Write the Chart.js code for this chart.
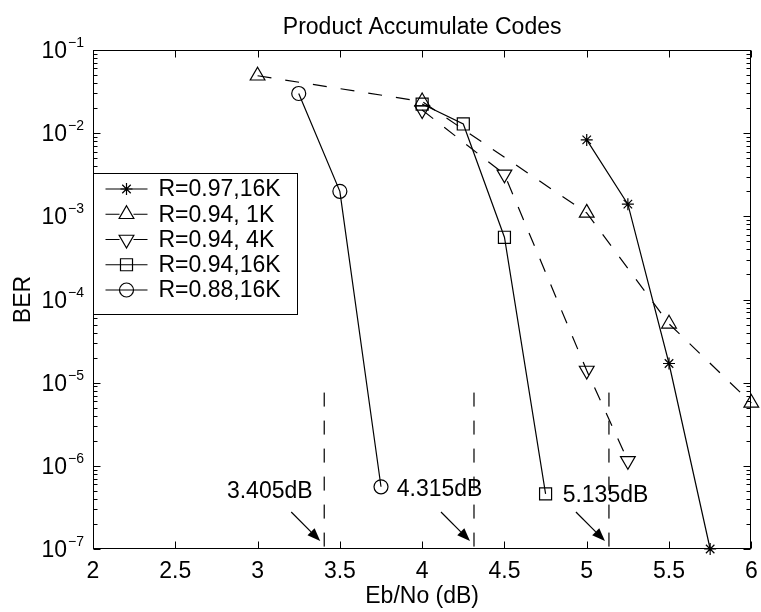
<!DOCTYPE html>
<html>
<head>
<meta charset="utf-8">
<script src="https://cdn.jsdelivr.net/npm/chart.js@4/dist/chart.umd.min.js"></script>
<style>
  html, body { margin: 0; padding: 0; background: #fff; }
  #wrap { width: 761px; height: 612px; }
</style>
</head>
<body>
<div id="wrap"><canvas id="berChart" width="761" height="612"></canvas></div>
<script>
const FONT = "'Liberation Sans', Arial, Helvetica, sans-serif";

// Eb/No (dB) and BER
const ebno97_16K = [5, 5.25, 5.5, 5.75];
const ber97_16K = [8.3e-3, 1.4e-3, 1.7e-5, 1.0e-7];
const ebno94_1K = [3, 4, 5, 5.5, 6];
const ber94_1K = [4.9e-2, 2.4e-2, 1.1e-3, 5.1e-5, 5.7e-6];
const ebno94_4K = [4, 4.5, 5, 5.25];
const ber94_4K = [1.9e-2, 3.2e-3, 1.4e-5, 1.15e-6];
const ebno94_16K = [4, 4.25, 4.5, 4.75];
const ber94_16K = [2.24e-2, 1.29e-2, 5.6e-4, 4.6e-7];
const ebno88_16K = [3.25, 3.5, 3.75];
const ber88_16K = [3.0e-2, 2.0e-3, 5.6e-7];

const seriesLabels = ["R=0.97,16K", "R=0.94, 1K", "R=0.94, 4K", "R=0.94,16K", "R=0.88,16K"];

// threshold markers (dashed verticals with arrows)
const limitsDb = [3.405, 4.315, 5.135];
const limitLabels = ["3.405dB", "4.315dB", "5.135dB"];
const limitBer = [7.6e-6, 1e-7];
const limitTextDb = [3.074, 4.106, 5.114];
const limitTextBer = [4.85e-7, 5.1e-7, 4.35e-7];

const xTicks = [2, 2.5, 3, 3.5, 4, 4.5, 5, 5.5, 6];
const yExps = [-1, -2, -3, -4, -5, -6, -7];

const DASH = [14, 14];

function series(xs, ys, label, style, radius, dashed, rotation) {
    return {
        label: label,
        data: xs.map((x, i) => ({ x: x, y: ys[i] })),
        borderColor: "#000",
        borderWidth: 1.2,
        borderDash: dashed ? DASH : [],
        pointStyle: style,
        pointRadius: radius,
        pointRotation: rotation || 0,
        pointBorderColor: "#000",
        pointBackgroundColor: "rgba(0,0,0,0)",
        pointBorderWidth: 1.2,
        tension: 0,
        fill: false,
        clip: false
    };
}

const datasets = [
    series(ebno97_16K, ber97_16K, seriesLabels[0], "star", 6, false),
    series(ebno94_1K, ber94_1K, seriesLabels[1], "triangle", 8.5, true),
    series(ebno94_4K, ber94_4K, seriesLabels[2], "triangle", 8.5, true, 180),
    series(ebno94_16K, ber94_16K, seriesLabels[3], "rect", 8.5, false),
    series(ebno88_16K, ber88_16K, seriesLabels[4], "circle", 7, false)
];

limitsDb.forEach(t => {
    datasets.push({
        label: "",
        data: limitBer.map(b => ({ x: t, y: b })),
        borderColor: "#000",
        borderWidth: 1.2,
        borderDash: DASH,
        pointRadius: 0,
        fill: false,
        clip: false
    });
});

function drawMarker(ctx, style, r, rot, x, y) {
    ctx.lineWidth = 1.2;
    ctx.beginPath();
    if (style === "circle") {
        ctx.arc(x, y, r, 0, Math.PI * 2);
    } else if (style === "rect") {
        const s = r * Math.SQRT1_2;
        ctx.rect(x - s, y - s, 2 * s, 2 * s);
    } else if (style === "star") {
        for (let k = 0; k < 4; k++) {
            const a = k * Math.PI / 4;
            ctx.moveTo(x - Math.cos(a) * r, y - Math.sin(a) * r);
            ctx.lineTo(x + Math.cos(a) * r, y + Math.sin(a) * r);
        }
    } else if (style === "triangle") {
        let a = rot * Math.PI / 180;
        ctx.moveTo(x + Math.sin(a) * r, y - Math.cos(a) * r);
        for (let k = 0; k < 2; k++) {
            a += Math.PI * 2 / 3;
            ctx.lineTo(x + Math.sin(a) * r, y - Math.cos(a) * r);
        }
        ctx.closePath();
    }
    ctx.stroke();
}

const axesFrame = {
    id: "axesFrame",
    afterDatasetsDraw(chart) {
        const { ctx, chartArea: a, scales: { x, y } } = chart;
        const L = Math.round(a.left) + 0.5, R = Math.round(a.right) - 0.5;
        const T = Math.round(a.top) + 0.5, B = Math.round(a.bottom) - 0.5;
        ctx.save();
        ctx.strokeStyle = "#000";
        ctx.lineWidth = 1;
        ctx.setLineDash([]);
        ctx.strokeRect(L, T, R - L, B - T);

        ctx.beginPath();
        xTicks.forEach(v => {
            const px = Math.round(x.getPixelForValue(v)) + 0.5;
            ctx.moveTo(px, B); ctx.lineTo(px, B - 7);
            ctx.moveTo(px, T); ctx.lineTo(px, T + 7);
        });
        yExps.forEach(e => {
            const py = Math.round(y.getPixelForValue(Math.pow(10, e))) + 0.5;
            ctx.moveTo(L, py); ctx.lineTo(L + 7, py);
            ctx.moveTo(R, py); ctx.lineTo(R - 7, py);
        });
        for (let e = -7; e < -1; e++) {
            for (let m = 2; m <= 9; m++) {
                const py = Math.round(y.getPixelForValue(m * Math.pow(10, e))) + 0.5;
                ctx.moveTo(L, py); ctx.lineTo(L + 4, py);
                ctx.moveTo(R, py); ctx.lineTo(R - 4, py);
            }
        }
        ctx.stroke();

        // y tick labels 10^e
        ctx.fillStyle = "#000";
        yExps.forEach(e => {
            const py = y.getPixelForValue(Math.pow(10, e));
            ctx.font = "23px " + FONT;
            ctx.textAlign = "right";
            ctx.textBaseline = "alphabetic";
            ctx.fillText("10", a.left - 26, py + 8);
            ctx.font = "14px " + FONT;
            ctx.textAlign = "left";
            ctx.fillText("\u2212" + Math.abs(e), a.left - 25, py - 3);
        });

        // threshold labels and arrows
        ctx.font = "23px " + FONT;
        ctx.textAlign = "center";
        ctx.textBaseline = "middle";
        ctx.lineWidth = 1.2;
        limitsDb.forEach((t, i) => {
            ctx.fillText(limitLabels[i], x.getPixelForValue(limitTextDb[i]), y.getPixelForValue(limitTextBer[i]));
            const px = x.getPixelForValue(t);
            const tipX = px - 4, tipY = a.bottom - 8;
            const tailX = tipX - 29, tailY = tipY - 29;
            const len = Math.hypot(tipX - tailX, tipY - tailY);
            const ux = (tipX - tailX) / len, uy = (tipY - tailY) / len;
            const hl = 13, hw = 5;
            const bx = tipX - ux * hl, by = tipY - uy * hl;
            ctx.beginPath();
            ctx.moveTo(tailX, tailY);
            ctx.lineTo(bx, by);
            ctx.stroke();
            ctx.beginPath();
            ctx.moveTo(tipX, tipY);
            ctx.lineTo(bx - uy * hw, by + ux * hw);
            ctx.lineTo(bx + uy * hw, by - ux * hw);
            ctx.closePath();
            ctx.fill();
        });
        ctx.restore();
    }
};

const legendBox = {
    id: "legendBox",
    afterDraw(chart) {
        const { ctx, chartArea: a } = chart;
        const left = Math.round(a.left) + 0.5, top = Math.round(a.top) + 123.5;
        const w = 204, h = 141;
        ctx.save();
        ctx.fillStyle = "#fff";
        ctx.fillRect(left, top, w, h);
        ctx.strokeStyle = "#000";
        ctx.lineWidth = 1;
        ctx.strokeRect(left, top, w, h);
        ctx.font = "23px " + FONT;
        ctx.textAlign = "left";
        ctx.textBaseline = "middle";
        seriesLabels.forEach((label, i) => {
            const ds = chart.data.datasets[i];
            const yy = top + 15.5 + i * 25.25;
            ctx.lineWidth = 1.2;
            ctx.setLineDash(ds.borderDash);
            ctx.beginPath();
            ctx.moveTo(left + 12, yy);
            ctx.lineTo(left + 54, yy);
            ctx.stroke();
            ctx.setLineDash([]);
            drawMarker(ctx, ds.pointStyle, ds.pointRadius, ds.pointRotation, left + 33, yy);
            ctx.fillStyle = "#000";
            ctx.fillText(label, left + 65, yy + 1);
        });
        ctx.restore();
    }
};

const chart = new Chart(document.getElementById("berChart").getContext("2d"), {
    type: "line",
    data: { datasets: datasets },
    options: {
        responsive: false,
        animation: false,
        events: [],
        layout: { padding: { left: 0, right: 9, top: 0, bottom: 0 } },
        plugins: {
            legend: { display: false },
            tooltip: { enabled: false },
            title: {
                display: true,
                text: "Product Accumulate Codes",
                color: "#000",
                font: { family: FONT, size: 23, weight: "normal" },
                padding: { top: 14, bottom: 8.4 },
                fullSize: false
            }
        },
        scales: {
            x: {
                type: "linear",
                min: 2,
                max: 6,
                afterBuildTicks: s => { s.ticks = xTicks.map(v => ({ value: v })); },
                afterFit: s => { s.height = 63; s.paddingLeft = 0; s.paddingRight = 0; },
                ticks: {
                    color: "#000",
                    font: { family: FONT, size: 23 },
                    padding: 9,
                    maxRotation: 0,
                    autoSkip: false,
                    callback: v => String(v)
                },
                grid: { display: false, drawTicks: false },
                border: { display: false },
                title: {
                    display: true,
                    text: "Eb/No (dB)",
                    color: "#000",
                    font: { family: FONT, size: 23 },
                    padding: { top: 0, bottom: 2 }
                }
            },
            y: {
                type: "logarithmic",
                min: 1e-7,
                max: 1e-1,
                afterBuildTicks: s => { s.ticks = yExps.map(e => ({ value: Math.pow(10, e) })); },
                afterFit: s => { s.width = 93; },
                ticks: { display: false },
                grid: { display: false, drawTicks: false },
                border: { display: false },
                title: {
                    display: true,
                    text: "BER",
                    color: "#000",
                    font: { family: FONT, size: 23 },
                    padding: { top: 9.5, bottom: 0 }
                }
            }
        }
    },
    plugins: [axesFrame, legendBox]
});
</script>
</body>
</html>
